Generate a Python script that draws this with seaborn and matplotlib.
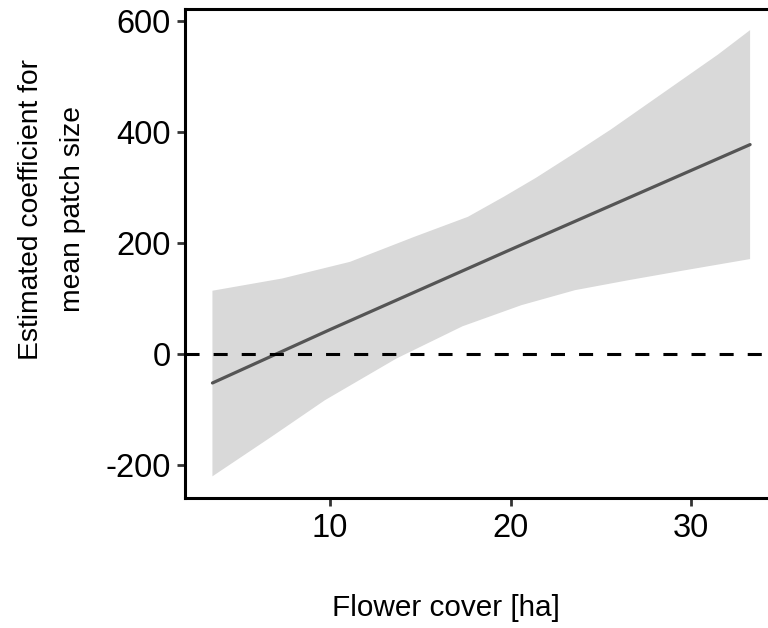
import matplotlib
matplotlib.use("Agg")
import matplotlib.pyplot as plt
import seaborn as sns
import pandas as pd

# Data
line_x = [3.49, 10.0, 20.0, 33.27]
estimate = [-52, 44, 188, 377]

upper_x = [3.49, 7.35, 11.11, 14.67, 17.64, 19.62, 21.40, 23.57, 25.55, 27.53, 29.51, 31.49, 33.27]
upper_y = [114, 136, 166, 211, 247, 283, 317, 362, 404, 449, 494, 539, 583]

lower_x = [3.49, 6.75, 9.72, 13.68, 17.34, 20.6, 23.57, 26.54, 29.51, 33.27]
lower_y = [-220, -149, -83, -8, 50, 88, 115, 133, 150, 171]

x_ticks = [10, 20, 30]
y_ticks = [-200, 0, 200, 400, 600]

line_df = pd.DataFrame({"x": line_x, "y": estimate})

sns.set_theme(style="white")
plt.rcParams['font.family'] = ['Liberation Sans', 'DejaVu Sans']

fig = plt.figure(figsize=(7.68, 6.28), dpi=100)
ax = fig.add_axes([185/768, 130/628, (777-185)/768, (498-9)/628])

poly_x = upper_x + lower_x[::-1]
poly_y = upper_y + lower_y[::-1]
ax.fill(poly_x, poly_y, color="#D9D9D9", linewidth=0, zorder=1)
sns.lineplot(data=line_df, x="x", y="y", ax=ax, color="#555555", linewidth=2.3, zorder=3)
ax.axhline(0, color="black", linewidth=2.2, dashes=(4.6, 4.6), zorder=4)

ax.set_xlim(1.97, 34.76)
ax.set_ylim(-259, 621)
ax.set_xticks(x_ticks)
ax.set_yticks(y_ticks)
ax.set_xticklabels([str(t) for t in x_ticks])
ax.set_yticklabels([str(t) for t in y_ticks])

for side in ["left", "bottom", "top"]:
    ax.spines[side].set_visible(True)
    ax.spines[side].set_color("black")
    ax.spines[side].set_linewidth(2.2)
ax.spines["right"].set_visible(False)

ax.tick_params(axis="both", which="major", length=5.5, width=2, color="#333333",
               labelsize=23.5, labelcolor="black", pad=5, direction="out",
               bottom=True, left=True)

ax.set_xlabel("Flower cover [ha]", fontsize=21.4, color="black")
ax.xaxis.set_label_coords((446-185)/592, -(594-498)/489)
ax.set_ylabel("Estimated coefficient for\nmean patch size", fontsize=20.3,
              color="black", linespacing=1.8)
ax.yaxis.set_label_coords((86-185)/592, (498-209)/489)

fig.savefig("out.png", dpi=100)
